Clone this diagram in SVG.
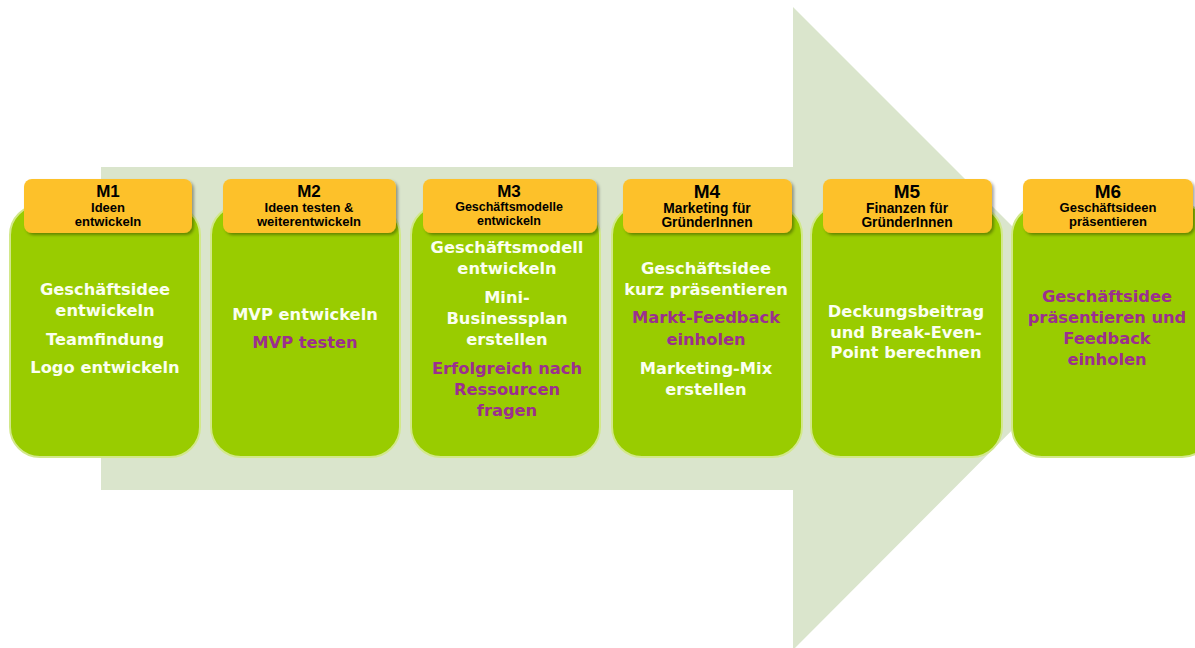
<svg xmlns="http://www.w3.org/2000/svg" width="1195" height="648" viewBox="0 0 1195 648">
<defs>
<filter id="sh" x="-10%" y="-20%" width="130%" height="150%">
<feDropShadow dx="2" dy="2" stdDeviation="1.5" flood-color="#000" flood-opacity="0.35"/>
</filter>
</defs>
<style>
.card{fill:#99cc00;stroke:#d2e88a;stroke-width:2}
.hdr{fill:#fdc12a;filter:url(#sh)}
.m{font-family:"Liberation Sans",Arial,sans-serif;font-weight:bold;font-size:17px;fill:#000;text-anchor:middle}
.s{font-family:"Liberation Sans",Arial,sans-serif;font-weight:bold;font-size:13px;fill:#000;text-anchor:middle}
.b{font-family:"DejaVu Sans",sans-serif;font-weight:bold;font-size:16.3px;fill:#fbfff0;text-anchor:middle}
.p{fill:#9b2f8f}
</style>
<rect width="1195" height="648" fill="#fff"/>
<polygon id="arrow" points="101,167 793,167 793,7 1114,328 793,650 793,490 101,490" fill="#dae5cc"/>
<g id="connectors"/>
<g id="m1">
<rect class="card" x="10" y="205" width="190" height="252" rx="30"/>
<rect class="hdr" x="24" y="179" width="168" height="54" rx="8"/>
<text class="m" x="108" y="197">M1</text>
<text class="s" x="108" y="212">Ideen</text>
<text class="s" x="108" y="226">entwickeln</text>
<text class="b" x="105" y="295">Geschäftsidee</text>
<text class="b" x="105" y="316">entwickeln</text>
<text class="b" x="105" y="345">Teamfindung</text>
<text class="b" x="105" y="373">Logo entwickeln</text>
</g>
<g id="m2">
<rect class="card" x="211" y="205" width="189" height="252" rx="30"/>
<rect class="hdr" x="223" y="179" width="173" height="54" rx="8"/>
<text class="m" x="309" y="197">M2</text>
<text class="s" x="309" y="212">Ideen testen &amp;</text>
<text class="s" x="309" y="226">weiterentwickeln</text>
<text class="b" x="305" y="320">MVP entwickeln</text>
<text class="b p" x="305" y="348">MVP testen</text>
</g>
<g id="m3">
<rect class="card" x="411" y="205" width="189" height="252" rx="30"/>
<rect class="hdr" x="423" y="179" width="174" height="54" rx="8"/>
<text class="m" x="509" y="197">M3</text>
<text class="s" x="509" y="211" style="font-size:12.5px">Geschäftsmodelle</text>
<text class="s" x="509" y="225" style="font-size:12.5px">entwickeln</text>
<text class="b" x="507" y="253">Geschäftsmodell</text>
<text class="b" x="507" y="274">entwickeln</text>
<text class="b" x="507" y="303">Mini-</text>
<text class="b" x="507" y="324">Businessplan</text>
<text class="b" x="507" y="345">erstellen</text>
<text class="b p" x="507" y="374">Erfolgreich nach</text>
<text class="b p" x="507" y="395">Ressourcen</text>
<text class="b p" x="507" y="416">fragen</text>
</g>
<g id="m4">
<rect class="card" x="612" y="205" width="190" height="252" rx="30"/>
<rect class="hdr" x="623" y="179" width="169" height="54" rx="8"/>
<text class="m" x="707" y="198" style="font-size:19px">M4</text>
<text class="s" x="707" y="213" style="font-size:13.8px">Marketing für</text>
<text class="s" x="707" y="227" style="font-size:13.8px">GründerInnen</text>
<text class="b" x="706" y="274">Geschäftsidee</text>
<text class="b" x="706" y="295">kurz präsentieren</text>
<text class="b p" x="706" y="323">Markt-Feedback</text>
<text class="b p" x="706" y="345">einholen</text>
<text class="b" x="706" y="374">Marketing-Mix</text>
<text class="b" x="706" y="395">erstellen</text>
</g>
<g id="m5">
<rect class="card" x="811" y="205" width="191" height="252" rx="30"/>
<rect class="hdr" x="823" y="179" width="169" height="54" rx="8"/>
<text class="m" x="907" y="198" style="font-size:19px">M5</text>
<text class="s" x="907" y="213" style="font-size:13.8px">Finanzen für</text>
<text class="s" x="907" y="227" style="font-size:13.8px">GründerInnen</text>
<text class="b" x="906" y="317">Deckungsbeitrag</text>
<text class="b" x="906" y="338">und Break-Even-</text>
<text class="b" x="906" y="358">Point berechnen</text>
</g>
<g id="m6">
<rect class="card" x="1012" y="205" width="200" height="252" rx="30"/>
<rect class="hdr" x="1023" y="179" width="170" height="54" rx="8"/>
<text class="m" x="1108" y="198" style="font-size:19px">M6</text>
<text class="s" x="1108" y="212">Geschäftsideen</text>
<text class="s" x="1108" y="226">präsentieren</text>
<text class="b p" x="1107" y="302">Geschäftsidee</text>
<text class="b p" x="1107" y="323">präsentieren und</text>
<text class="b p" x="1107" y="344">Feedback</text>
<text class="b p" x="1107" y="365">einholen</text>
</g>
</svg>
